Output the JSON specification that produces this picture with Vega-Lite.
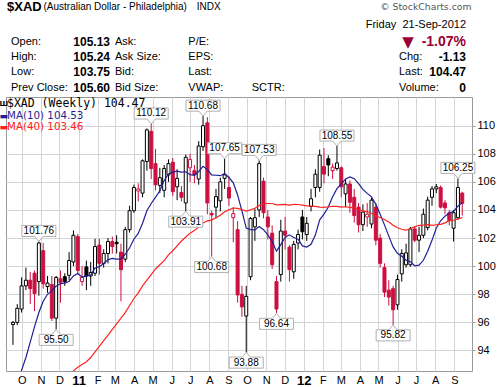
{
"$schema": "https://vega.github.io/schema/vega-lite/v6.json",
"width": 466, "height": 274,
"autosize": {"type": "none"},
"padding": {"left": 6, "top": 97, "right": 27, "bottom": 16},
"background": "#ffffff",
"config": {"view": {"stroke": "#999999", "strokeWidth": 1}, "font": "Liberation Sans", "axis": {"labelOverlap": false}, "axisY": {"labelOverlap": false}},
"datasets": {
"wk": [
{"d":"2010-09-20","o":95.85,"h":96.1,"l":94.4,"c":96.0,"m10":90.5,"m40":null},
{"d":"2010-09-27","o":96.0,"h":97.3,"l":95.8,"c":97.0,"m10":91.7,"m40":null},
{"d":"2010-10-04","o":96.95,"h":99.2,"l":96.7,"c":98.6,"m10":92.6,"m40":null},
{"d":"2010-10-11","o":98.6,"h":99.9,"l":98.3,"c":99.0,"m10":93.5,"m40":null},
{"d":"2010-10-18","o":99.0,"h":99.6,"l":97.3,"c":98.4,"m10":94.6,"m40":null},
{"d":"2010-10-25","o":99.5,"h":99.7,"l":96.8,"c":98.05,"m10":95.7,"m40":null},
{"d":"2010-11-01","o":98.9,"h":101.76,"l":97.9,"c":101.65,"m10":96.7,"m40":null},
{"d":"2010-11-08","o":101.1,"h":101.65,"l":98.4,"c":98.75,"m10":97.5,"m40":null},
{"d":"2010-11-15","o":98.55,"h":99.3,"l":98.1,"c":98.8,"m10":98.0,"m40":null},
{"d":"2010-11-22","o":98.7,"h":99.3,"l":96.1,"c":96.3,"m10":98.26,"m40":null},
{"d":"2010-11-29","o":96.3,"h":99.3,"l":95.5,"c":99.2,"m10":98.58,"m40":null},
{"d":"2010-12-06","o":99.1,"h":99.7,"l":97.4,"c":98.85,"m10":98.76,"m40":null},
{"d":"2010-12-13","o":99.25,"h":99.5,"l":98.6,"c":98.9,"m10":98.79,"m40":null},
{"d":"2010-12-20","o":99.35,"h":101.0,"l":99.0,"c":100.4,"m10":98.93,"m40":92.2},
{"d":"2010-12-27","o":100.3,"h":102.55,"l":100.0,"c":102.2,"m10":99.31,"m40":92.55},
{"d":"2011-01-03","o":102.1,"h":102.3,"l":99.4,"c":99.7,"m10":99.48,"m40":92.8},
{"d":"2011-01-10","o":98.9,"h":100.0,"l":98.6,"c":99.2,"m10":99.23,"m40":93.0},
{"d":"2011-01-17","o":99.95,"h":100.4,"l":98.3,"c":99.3,"m10":99.29,"m40":93.2},
{"d":"2011-01-24","o":99.3,"h":100.3,"l":98.6,"c":99.55,"m10":99.36,"m40":93.5},
{"d":"2011-01-31","o":99.5,"h":101.95,"l":99.3,"c":101.4,"m10":99.87,"m40":93.9},
{"d":"2011-02-07","o":101.5,"h":101.95,"l":99.4,"c":100.2,"m10":99.97,"m40":94.3},
{"d":"2011-02-14","o":100.2,"h":101.2,"l":99.9,"c":100.9,"m10":100.18,"m40":94.7},
{"d":"2011-02-21","o":100.9,"h":102.0,"l":100.2,"c":101.75,"m10":100.46,"m40":95.1},
{"d":"2011-02-28","o":101.75,"h":102.1,"l":100.9,"c":101.4,"m10":100.56,"m40":95.5},
{"d":"2011-03-07","o":101.7,"h":102.2,"l":100.9,"c":101.6,"m10":100.5,"m40":95.9},
{"d":"2011-03-14","o":101.0,"h":101.6,"l":97.5,"c":99.75,"m10":100.51,"m40":96.3},
{"d":"2011-03-21","o":100.5,"h":102.8,"l":100.3,"c":102.6,"m10":100.85,"m40":96.7},
{"d":"2011-03-28","o":102.6,"h":104.3,"l":102.4,"c":103.95,"m10":101.31,"m40":97.2},
{"d":"2011-04-04","o":103.95,"h":105.8,"l":103.8,"c":105.6,"m10":101.92,"m40":97.7},
{"d":"2011-04-11","o":105.35,"h":105.9,"l":104.6,"c":105.5,"m10":102.33,"m40":98.1},
{"d":"2011-04-18","o":105.2,"h":107.6,"l":104.9,"c":107.5,"m10":103.06,"m40":98.6},
{"d":"2011-04-25","o":107.45,"h":109.8,"l":106.8,"c":109.7,"m10":103.94,"m40":99.0},
{"d":"2011-05-02","o":109.6,"h":110.12,"l":106.2,"c":106.95,"m10":104.46,"m40":99.4},
{"d":"2011-05-09","o":107.3,"h":108.35,"l":105.4,"c":105.8,"m10":104.9,"m40":99.8},
{"d":"2011-05-16","o":105.75,"h":107.0,"l":105.2,"c":106.3,"m10":105.37,"m40":100.1},
{"d":"2011-05-23","o":105.4,"h":107.2,"l":104.9,"c":106.95,"m10":106.09,"m40":100.4},
{"d":"2011-05-30","o":106.5,"h":107.6,"l":106.0,"c":107.3,"m10":106.56,"m40":100.8},
{"d":"2011-06-06","o":107.4,"h":107.7,"l":105.0,"c":105.3,"m10":106.69,"m40":101.1},
{"d":"2011-06-13","o":105.65,"h":106.9,"l":104.7,"c":106.25,"m10":106.76,"m40":101.45},
{"d":"2011-06-20","o":105.25,"h":105.7,"l":104.6,"c":104.9,"m10":106.7,"m40":101.79},
{"d":"2011-06-27","o":104.5,"h":107.95,"l":103.91,"c":107.75,"m10":106.72,"m40":102.08},
{"d":"2011-07-04","o":107.0,"h":108.0,"l":106.0,"c":107.6,"m10":106.51,"m40":102.35},
{"d":"2011-07-11","o":106.8,"h":107.2,"l":105.9,"c":106.5,"m10":106.47,"m40":102.54},
{"d":"2011-07-18","o":106.2,"h":108.9,"l":105.8,"c":108.55,"m10":106.74,"m40":102.78},
{"d":"2011-07-25","o":108.5,"h":110.68,"l":108.2,"c":110.0,"m10":107.11,"m40":103.07},
{"d":"2011-08-01","o":110.2,"h":110.6,"l":103.7,"c":104.5,"m10":106.87,"m40":103.23},
{"d":"2011-08-08","o":103.75,"h":103.95,"l":100.68,"c":103.65,"m10":106.5,"m40":103.28},
{"d":"2011-08-15","o":104.2,"h":105.5,"l":103.4,"c":104.95,"m10":106.47,"m40":103.44},
{"d":"2011-08-22","o":104.65,"h":106.3,"l":103.9,"c":106.0,"m10":106.44,"m40":103.62},
{"d":"2011-08-29","o":106.25,"h":107.65,"l":105.5,"c":106.5,"m10":106.6,"m40":103.87},
{"d":"2011-09-05","o":105.6,"h":106.4,"l":104.3,"c":104.85,"m10":106.31,"m40":104.01},
{"d":"2011-09-12","o":103.45,"h":104.2,"l":101.7,"c":103.75,"m10":105.93,"m40":104.14},
{"d":"2011-09-19","o":102.6,"h":103.2,"l":97.4,"c":97.95,"m10":105.07,"m40":104.11},
{"d":"2011-09-26","o":98.0,"h":98.6,"l":96.4,"c":97.1,"m10":103.93,"m40":104.03},
{"d":"2011-10-03","o":96.45,"h":98.6,"l":93.88,"c":97.85,"m10":102.71,"m40":103.92},
{"d":"2011-10-10","o":99.25,"h":103.5,"l":99.0,"c":103.4,"m10":102.6,"m40":104.01},
{"d":"2011-10-17","o":102.8,"h":104.1,"l":101.8,"c":103.45,"m10":102.58,"m40":104.12},
{"d":"2011-10-24","o":104.0,"h":107.53,"l":103.5,"c":107.3,"m10":102.82,"m40":104.32},
{"d":"2011-10-31","o":106.05,"h":106.3,"l":103.4,"c":103.8,"m10":102.6,"m40":104.43},
{"d":"2011-11-07","o":103.5,"h":104.0,"l":101.9,"c":102.8,"m10":102.23,"m40":104.46},
{"d":"2011-11-14","o":102.35,"h":102.9,"l":99.8,"c":100.1,"m10":101.75,"m40":104.46},
{"d":"2011-11-21","o":98.9,"h":99.3,"l":96.64,"c":96.95,"m10":101.07,"m40":104.36},
{"d":"2011-11-28","o":99.4,"h":103.3,"l":98.9,"c":102.5,"m10":101.53,"m40":104.38},
{"d":"2011-12-05","o":102.5,"h":103.5,"l":101.2,"c":102.2,"m10":102.04,"m40":104.4},
{"d":"2011-12-12","o":101.35,"h":101.5,"l":98.9,"c":99.75,"m10":102.23,"m40":104.35},
{"d":"2011-12-19","o":99.6,"h":101.8,"l":99.1,"c":101.55,"m10":102.04,"m40":104.4},
{"d":"2011-12-26","o":101.65,"h":102.6,"l":101.2,"c":102.25,"m10":101.92,"m40":104.39},
{"d":"2012-01-02","o":103.5,"h":104.0,"l":101.9,"c":102.45,"m10":101.44,"m40":104.35},
{"d":"2012-01-09","o":102.25,"h":103.5,"l":101.8,"c":103.05,"m10":101.36,"m40":104.29},
{"d":"2012-01-16","o":104.25,"h":105.5,"l":103.9,"c":104.8,"m10":101.56,"m40":104.27},
{"d":"2012-01-23","o":105.6,"h":106.9,"l":104.9,"c":106.55,"m10":102.21,"m40":104.25},
{"d":"2012-01-30","o":105.6,"h":108.3,"l":105.3,"c":107.9,"m10":103.3,"m40":104.2},
{"d":"2012-02-06","o":107.1,"h":108.4,"l":105.9,"c":106.55,"m10":103.71,"m40":104.19},
{"d":"2012-02-13","o":107.65,"h":107.9,"l":106.4,"c":107.2,"m10":104.21,"m40":104.23},
{"d":"2012-02-20","o":106.8,"h":107.3,"l":106.2,"c":107.05,"m10":104.94,"m40":104.25},
{"d":"2012-02-27","o":106.95,"h":108.55,"l":106.8,"c":107.35,"m10":105.52,"m40":104.26},
{"d":"2012-03-05","o":107.0,"h":107.1,"l":104.9,"c":105.65,"m10":105.86,"m40":104.21},
{"d":"2012-03-12","o":105.15,"h":106.2,"l":104.2,"c":105.85,"m10":106.2,"m40":104.23},
{"d":"2012-03-19","o":105.85,"h":106.1,"l":103.8,"c":104.55,"m10":106.35,"m40":104.19},
{"d":"2012-03-26","o":104.9,"h":105.5,"l":103.1,"c":103.6,"m10":106.23,"m40":104.15},
{"d":"2012-04-02","o":104.2,"h":104.5,"l":102.4,"c":102.95,"m10":105.87,"m40":104.03},
{"d":"2012-04-09","o":102.95,"h":104.4,"l":102.5,"c":103.85,"m10":105.46,"m40":103.94},
{"d":"2012-04-16","o":103.5,"h":104.5,"l":102.8,"c":103.7,"m10":105.18,"m40":103.87},
{"d":"2012-04-23","o":103.0,"h":104.85,"l":102.7,"c":104.7,"m10":104.93,"m40":103.77},
{"d":"2012-04-30","o":104.2,"h":104.5,"l":101.5,"c":101.85,"m10":104.41,"m40":103.57},
{"d":"2012-05-07","o":102.0,"h":102.3,"l":99.9,"c":100.2,"m10":103.69,"m40":103.46},
{"d":"2012-05-14","o":99.9,"h":100.2,"l":97.8,"c":98.15,"m10":102.94,"m40":103.32},
{"d":"2012-05-21","o":98.3,"h":99.0,"l":97.2,"c":97.8,"m10":102.14,"m40":103.15},
{"d":"2012-05-28","o":98.4,"h":98.6,"l":95.82,"c":96.9,"m10":101.37,"m40":102.92},
{"d":"2012-06-04","o":97.25,"h":99.4,"l":96.9,"c":99.05,"m10":100.92,"m40":102.73},
{"d":"2012-06-11","o":99.45,"h":101.2,"l":98.9,"c":100.9,"m10":100.71,"m40":102.63},
{"d":"2012-06-18","o":100.1,"h":101.6,"l":99.9,"c":100.95,"m10":100.42,"m40":102.56},
{"d":"2012-06-25","o":100.1,"h":102.8,"l":99.95,"c":102.65,"m10":100.32,"m40":102.68},
{"d":"2012-07-02","o":102.65,"h":102.85,"l":101.7,"c":101.85,"m10":100.03,"m40":102.8},
{"d":"2012-07-09","o":101.85,"h":102.8,"l":101.0,"c":102.2,"m10":100.07,"m40":102.91},
{"d":"2012-07-16","o":102.2,"h":104.1,"l":102.0,"c":103.7,"m10":100.42,"m40":102.92},
{"d":"2012-07-23","o":102.75,"h":104.95,"l":102.55,"c":104.7,"m10":101.07,"m40":102.95},
{"d":"2012-07-30","o":104.9,"h":105.7,"l":104.3,"c":105.5,"m10":101.84,"m40":102.9},
{"d":"2012-08-06","o":105.5,"h":105.85,"l":105.2,"c":105.65,"m10":102.72,"m40":102.95},
{"d":"2012-08-13","o":105.6,"h":105.75,"l":104.1,"c":104.2,"m10":103.23,"m40":102.98},
{"d":"2012-08-20","o":104.5,"h":104.7,"l":103.7,"c":104.15,"m10":103.56,"m40":103.08},
{"d":"2012-08-27","o":103.8,"h":104.0,"l":102.9,"c":103.25,"m10":103.79,"m40":103.24},
{"d":"2012-09-03","o":102.7,"h":104.0,"l":101.75,"c":103.8,"m10":103.9,"m40":103.27},
{"d":"2012-09-10","o":103.45,"h":106.25,"l":103.3,"c":105.6,"m10":104.27,"m40":103.36},
{"d":"2012-09-17","o":105.2,"h":105.3,"l":103.6,"c":104.47,"m10":104.53,"m40":103.46}
],
"lbl": [
{"d":"2010-11-01","p":101.76,"t":"101.76","pos":"high"},
{"d":"2010-11-29","p":95.50,"t":"95.50","pos":"low"},
{"d":"2011-05-02","p":110.12,"t":"110.12","pos":"high"},
{"d":"2011-06-27","p":103.91,"t":"103.91","pos":"low"},
{"d":"2011-07-25","p":110.68,"t":"110.68","pos":"high"},
{"d":"2011-08-08","p":100.68,"t":"100.68","pos":"low"},
{"d":"2011-08-29","p":107.65,"t":"107.65","pos":"high"},
{"d":"2011-10-03","p":93.88,"t":"93.88","pos":"low"},
{"d":"2011-10-24","p":107.53,"t":"107.53","pos":"high"},
{"d":"2011-11-21","p":96.64,"t":"96.64","pos":"low"},
{"d":"2012-02-27","p":108.55,"t":"108.55","pos":"high"},
{"d":"2012-05-28","p":95.82,"t":"95.82","pos":"low"},
{"d":"2012-09-10","p":106.25,"t":"106.25","pos":"high"}
],
"hdr": [
{"c":2,"r":0,"t":"$XAD","k":"ttl"},
{"c":4,"r":0,"t":"(Australian Dollar - Philadelphia)","k":"sub"},
{"c":8,"r":0,"t":"INDX","k":"sub"},
{"c":13,"r":0,"t":"© StockCharts.com","k":"copy"},
{"c":12,"r":2,"t":"Friday\u00a0\u00a021-Sep-2012","k":"date"},
{"c":11,"r":3,"t":"▼","k":"arrow"},
{"c":12,"r":3,"t":"-1.07%","k":"pct"},
{"c":3,"r":3,"t":"Open:","k":"lab"},
{"c":3,"r":4,"t":"High:","k":"lab"},
{"c":3,"r":5,"t":"Low:","k":"lab"},
{"c":3,"r":6,"t":"Prev Close:","k":"lab"},
{"c":6,"r":3,"t":"Ask:","k":"lab"},
{"c":6,"r":4,"t":"Ask Size:","k":"lab"},
{"c":6,"r":5,"t":"Bid:","k":"lab"},
{"c":6,"r":6,"t":"Bid Size:","k":"lab"},
{"c":7,"r":3,"t":"P/E:","k":"lab"},
{"c":7,"r":4,"t":"EPS:","k":"lab"},
{"c":7,"r":5,"t":"Last:","k":"lab"},
{"c":7,"r":6,"t":"VWAP:","k":"lab"},
{"c":9,"r":6,"t":"SCTR:","k":"lab"},
{"c":10,"r":4,"t":"Chg:","k":"lab"},
{"c":10,"r":5,"t":"Last:","k":"lab"},
{"c":10,"r":6,"t":"Volume:","k":"lab"},
{"c":5,"r":3,"t":"105.13","k":"val"},
{"c":5,"r":4,"t":"105.24","k":"val"},
{"c":5,"r":5,"t":"103.75","k":"val"},
{"c":5,"r":6,"t":"105.60","k":"val"},
{"c":12,"r":4,"t":"-1.13","k":"val"},
{"c":12,"r":5,"t":"104.47","k":"val"},
{"c":12,"r":6,"t":"0","k":"val"},
{"c":0,"r":8,"t":"Ш","k":"icon"},
{"c":2,"r":8,"t":"$XAD (Weekly) 104.47","k":"leg"},
{"c":0,"r":9,"t":"▬","k":"d10"},
{"c":2,"r":9,"t":"MA(10) 104.53","k":"m10"},
{"c":0,"r":10,"t":"▬","k":"d40"},
{"c":2,"r":10,"t":"MA(40) 103.46","k":"m40"}
]
},
"layer": [
{
"encoding": {"x": {"field": "d", "type": "temporal", "title": null,
  "scale": {"type": "utc", "domain": [{"year": 2010, "month": 9, "date": 16, "hours": 20, "utc": true}, {"year": 2012, "month": 9, "date": 24, "hours": 17, "utc": true}]},
  "axis": {"orient": "bottom",
    "values": [
      {"year": 2010, "month": 10, "date": 1, "utc": true}, {"year": 2010, "month": 11, "date": 1, "utc": true}, {"year": 2010, "month": 12, "date": 1, "utc": true},
      {"year": 2011, "month": 1, "date": 1, "utc": true}, {"year": 2011, "month": 2, "date": 1, "utc": true}, {"year": 2011, "month": 3, "date": 1, "utc": true},
      {"year": 2011, "month": 4, "date": 1, "utc": true}, {"year": 2011, "month": 5, "date": 1, "utc": true}, {"year": 2011, "month": 6, "date": 1, "utc": true},
      {"year": 2011, "month": 7, "date": 1, "utc": true}, {"year": 2011, "month": 8, "date": 1, "utc": true}, {"year": 2011, "month": 9, "date": 1, "utc": true},
      {"year": 2011, "month": 10, "date": 1, "utc": true}, {"year": 2011, "month": 11, "date": 1, "utc": true}, {"year": 2011, "month": 12, "date": 1, "utc": true},
      {"year": 2012, "month": 1, "date": 1, "utc": true}, {"year": 2012, "month": 2, "date": 1, "utc": true}, {"year": 2012, "month": 3, "date": 1, "utc": true},
      {"year": 2012, "month": 4, "date": 1, "utc": true}, {"year": 2012, "month": 5, "date": 1, "utc": true}, {"year": 2012, "month": 6, "date": 1, "utc": true},
      {"year": 2012, "month": 7, "date": 1, "utc": true}, {"year": 2012, "month": 8, "date": 1, "utc": true}, {"year": 2012, "month": 9, "date": 1, "utc": true}
    ],
    "grid": true, "gridColor": "#d4d4d4", "domain": false, "ticks": false, "tickOffset": 2, "labelPadding": 3, "labelOverlap": false, "labelFlush": false, "labelFont": "Liberation Sans", "labelColor": "#000000", "title": null,
    "labelExpr": "utcmonth(datum.value) == 0 ? utcFormat(datum.value, '%y') : substring(utcFormat(datum.value, '%b'), 0, 1)",
    "labelFontWeight": {"condition": {"test": "utcmonth(datum.value) == 0", "value": "bold"}, "value": "normal"},
    "labelFontSize": {"condition": {"test": "utcmonth(datum.value) == 0", "value": 13}, "value": 11}}}},
"layer": [
{"data": {"name": "wk"},
 "transform": [{"window": [{"op": "lag", "field": "c", "as": "pc"}], "sort": [{"field": "d"}]}, {"calculate": "datum.pc == null || datum.c >= datum.pc ? 'up' : 'down'", "as": "dir"}],
 "mark": {"type": "rule", "strokeWidth": 1},
 "encoding": {
  "y": {"field": "l", "type": "quantitative", "title": null, "scale": {"domain": [92.54, 112.04], "nice": false, "zero": false}, "axis": {"orient": "right", "values": [94,96,98,100,102,104,106,108,110], "labelOverlap": false, "labelBound": false, "grid": true, "gridColor": "#d4d4d4", "domain": false, "ticks": true, "tickSize": 3, "tickColor": "#999999", "labelPadding": 2, "labelFont": "Liberation Sans", "labelFontSize": 11, "labelColor": "#000000", "title": null}},
  "y2": {"field": "h"},
  "color": {"field": "dir", "type": "nominal", "scale": {"domain": ["up", "down"], "range": ["#000000", "#cc1040"]}, "legend": null}}},
{"data": {"name": "wk"},
 "transform": [{"window": [{"op": "lag", "field": "c", "as": "pc"}], "sort": [{"field": "d"}]}, {"calculate": "datum.pc == null || datum.c >= datum.pc ? 'up' : 'down'", "as": "dir"}],
 "mark": {"type": "bar", "size": 3, "strokeWidth": 1},
 "encoding": {
  "y": {"field": "o", "type": "quantitative", "title": null, "scale": {"domain": [92.54, 112.04], "nice": false, "zero": false}, "axis": {"orient": "right", "values": [94,96,98,100,102,104,106,108,110], "labelOverlap": false, "labelBound": false, "grid": true, "gridColor": "#d4d4d4", "domain": false, "ticks": true, "tickSize": 3, "tickColor": "#999999", "labelPadding": 2, "labelFont": "Liberation Sans", "labelFontSize": 11, "labelColor": "#000000", "title": null}},
  "y2": {"field": "c"},
  "stroke": {"field": "dir", "type": "nominal", "scale": {"domain": ["up", "down"], "range": ["#000000", "#cc1040"]}, "legend": null},
  "fill": {"condition": {"test": "datum.c > datum.o", "value": "#ffffff"}, "field": "dir", "type": "nominal", "scale": {"domain": ["up", "down"], "range": ["#000000", "#cc1040"]}, "legend": null}}},
{"data": {"name": "wk"},
 "mark": {"type": "line", "color": "#1f1f96", "strokeWidth": 1.2, "clip": true},
 "encoding": {"y": {"field": "m10", "type": "quantitative", "title": null, "scale": {"domain": [92.54, 112.04], "nice": false, "zero": false}, "axis": {"orient": "right", "values": [94,96,98,100,102,104,106,108,110], "labelOverlap": false, "labelBound": false, "grid": true, "gridColor": "#d4d4d4", "domain": false, "ticks": true, "tickSize": 3, "tickColor": "#999999", "labelPadding": 2, "labelFont": "Liberation Sans", "labelFontSize": 11, "labelColor": "#000000", "title": null}}}},
{"data": {"name": "wk"},
 "mark": {"type": "line", "color": "#ff2222", "strokeWidth": 1.2, "clip": true},
 "encoding": {"y": {"field": "m40", "type": "quantitative", "title": null, "scale": {"domain": [92.54, 112.04], "nice": false, "zero": false}, "axis": {"orient": "right", "values": [94,96,98,100,102,104,106,108,110], "labelOverlap": false, "labelBound": false, "grid": true, "gridColor": "#d4d4d4", "domain": false, "ticks": true, "tickSize": 3, "tickColor": "#999999", "labelPadding": 2, "labelFont": "Liberation Sans", "labelFontSize": 11, "labelColor": "#000000", "title": null}}}},
{"data": {"name": "lbl"},
 "transform": [{"filter": "datum.pos == 'high'"}],
 "mark": {"type": "point", "shape": "M0,0L-0.24,-0.29L-1,-0.29L-1,-0.94L1,-0.94L1,-0.29L0.24,-0.29Z", "size": 1156, "filled": true, "fill": "#ffffff", "stroke": "#b0b0b0", "strokeWidth": 1, "opacity": 1},
 "encoding": {"y": {"field": "p", "type": "quantitative", "title": null, "scale": {"domain": [92.54, 112.04], "nice": false, "zero": false}, "axis": {"orient": "right", "values": [94,96,98,100,102,104,106,108,110], "labelOverlap": false, "labelBound": false, "grid": true, "gridColor": "#d4d4d4", "domain": false, "ticks": true, "tickSize": 3, "tickColor": "#999999", "labelPadding": 2, "labelFont": "Liberation Sans", "labelFontSize": 11, "labelColor": "#000000", "title": null}}}},
{"data": {"name": "lbl"},
 "transform": [{"filter": "datum.pos == 'low'"}],
 "mark": {"type": "point", "shape": "M0,0L-0.24,0.29L-1,0.29L-1,0.94L1,0.94L1,0.29L0.24,0.29Z", "size": 1156, "filled": true, "fill": "#ffffff", "stroke": "#b0b0b0", "strokeWidth": 1, "opacity": 1},
 "encoding": {"y": {"field": "p", "type": "quantitative", "title": null, "scale": {"domain": [92.54, 112.04], "nice": false, "zero": false}, "axis": {"orient": "right", "values": [94,96,98,100,102,104,106,108,110], "labelOverlap": false, "labelBound": false, "grid": true, "gridColor": "#d4d4d4", "domain": false, "ticks": true, "tickSize": 3, "tickColor": "#999999", "labelPadding": 2, "labelFont": "Liberation Sans", "labelFontSize": 11, "labelColor": "#000000", "title": null}}}},
{"data": {"name": "lbl"},
 "transform": [{"filter": "datum.pos == 'high'"}],
 "mark": {"type": "text", "dy": -10.5, "baseline": "middle", "font": "Liberation Sans", "fontSize": 10, "color": "#000000"},
 "encoding": {"y": {"field": "p", "type": "quantitative", "title": null, "scale": {"domain": [92.54, 112.04], "nice": false, "zero": false}, "axis": {"orient": "right", "values": [94,96,98,100,102,104,106,108,110], "labelOverlap": false, "labelBound": false, "grid": true, "gridColor": "#d4d4d4", "domain": false, "ticks": true, "tickSize": 3, "tickColor": "#999999", "labelPadding": 2, "labelFont": "Liberation Sans", "labelFontSize": 11, "labelColor": "#000000", "title": null}}, "text": {"field": "t"}}},
{"data": {"name": "lbl"},
 "transform": [{"filter": "datum.pos == 'low'"}],
 "mark": {"type": "text", "dy": 10.5, "baseline": "middle", "font": "Liberation Sans", "fontSize": 10, "color": "#000000"},
 "encoding": {"y": {"field": "p", "type": "quantitative", "title": null, "scale": {"domain": [92.54, 112.04], "nice": false, "zero": false}, "axis": {"orient": "right", "values": [94,96,98,100,102,104,106,108,110], "labelOverlap": false, "labelBound": false, "grid": true, "gridColor": "#d4d4d4", "domain": false, "ticks": true, "tickSize": 3, "tickColor": "#999999", "labelPadding": 2, "labelFont": "Liberation Sans", "labelFontSize": 11, "labelColor": "#000000", "title": null}}, "text": {"field": "t"}}}
]
},
{
"encoding": {
 "x": {"field": "c", "type": "quantitative", "axis": null, "scale": {"domain": [0,1,2,3,4,5,6,7,8,9,10,11,12,13], "range": [-2.2, 0.5, 1, 5, 37.5, 104, 109, 182.3, 190.7, 245.7, 393, 402, 460, 465.5], "nice": false, "zero": false}},
 "y": {"field": "r", "type": "quantitative", "axis": null, "scale": {"domain": [0,1,2,3,4,5,6,7,8,9,10], "range": [-90, -81.5, -72, -55.3, -40.3, -25.3, -9.5, 0, 7, 18.5, 30], "nice": false, "zero": false}}
},
"layer": [
{"data": {"values": [{}]}, "mark": {"type": "rect", "filled": false, "color": "#a0a0a0", "strokeWidth": 1},
 "encoding": {"x": {"datum": 1, "type": "quantitative"}, "x2": {"datum": 13}, "y": {"datum": 1, "type": "quantitative"}, "y2": {"datum": 7}}},
{"data": {"name": "hdr"}, "transform": [{"filter": "datum.k == 'ttl'"}], "mark": {"type": "text", "align": "left", "baseline": "middle", "font": "Liberation Sans", "fontSize": 13, "fontWeight": "bold", "color": "#000000"}, "encoding": {"text": {"field": "t"}}},
{"data": {"name": "hdr"}, "transform": [{"filter": "datum.k == 'sub'"}], "mark": {"type": "text", "align": "left", "baseline": "middle", "font": "Liberation Sans", "fontSize": 10, "color": "#000000"}, "encoding": {"text": {"field": "t"}}},
{"data": {"name": "hdr"}, "transform": [{"filter": "datum.k == 'copy'"}], "mark": {"type": "text", "align": "right", "baseline": "middle", "font": "DejaVu Sans", "fontSize": 9.3, "color": "#555555"}, "encoding": {"text": {"field": "t"}}},
{"data": {"name": "hdr"}, "transform": [{"filter": "datum.k == 'date'"}], "mark": {"type": "text", "align": "right", "baseline": "middle", "font": "Liberation Sans", "fontSize": 11, "color": "#000000"}, "encoding": {"text": {"field": "t"}}},
{"data": {"name": "hdr"}, "transform": [{"filter": "datum.k == 'arrow'"}], "mark": {"type": "text", "align": "center", "baseline": "middle", "font": "DejaVu Sans", "fontSize": 15, "color": "#990033"}, "encoding": {"text": {"field": "t"}}},
{"data": {"name": "hdr"}, "transform": [{"filter": "datum.k == 'pct'"}], "mark": {"type": "text", "align": "right", "baseline": "middle", "font": "Liberation Sans", "fontSize": 14, "fontWeight": "bold", "color": "#990033"}, "encoding": {"text": {"field": "t"}}},
{"data": {"name": "hdr"}, "transform": [{"filter": "datum.k == 'lab'"}], "mark": {"type": "text", "align": "left", "baseline": "middle", "font": "Liberation Sans", "fontSize": 11, "color": "#000000"}, "encoding": {"text": {"field": "t"}}},
{"data": {"name": "hdr"}, "transform": [{"filter": "datum.k == 'val'"}], "mark": {"type": "text", "align": "right", "baseline": "middle", "font": "Liberation Sans", "fontSize": 12, "fontWeight": "bold", "color": "#000000"}, "encoding": {"text": {"field": "t"}}},
{"data": {"name": "hdr"}, "transform": [{"filter": "datum.k == 'icon'"}], "mark": {"type": "text", "align": "center", "baseline": "middle", "font": "DejaVu Sans", "fontSize": 7, "fontWeight": "bold", "color": "#000000"}, "encoding": {"text": {"field": "t"}}},
{"data": {"name": "hdr"}, "transform": [{"filter": "datum.k == 'leg'"}], "mark": {"type": "text", "align": "left", "baseline": "middle", "font": "DejaVu Sans Mono", "fontSize": 11.5, "color": "#000000"}, "encoding": {"text": {"field": "t"}}},
{"data": {"name": "hdr"}, "transform": [{"filter": "datum.k == 'd10'"}], "mark": {"type": "text", "align": "center", "baseline": "middle", "font": "DejaVu Sans", "fontSize": 9, "color": "#1f1f96"}, "encoding": {"text": {"field": "t"}}},
{"data": {"name": "hdr"}, "transform": [{"filter": "datum.k == 'd40'"}], "mark": {"type": "text", "align": "center", "baseline": "middle", "font": "DejaVu Sans", "fontSize": 9, "color": "#ff2222"}, "encoding": {"text": {"field": "t"}}},
{"data": {"name": "hdr"}, "transform": [{"filter": "datum.k == 'm10'"}], "mark": {"type": "text", "align": "left", "baseline": "middle", "font": "DejaVu Sans", "fontSize": 10.3, "color": "#1f1f96"}, "encoding": {"text": {"field": "t"}}},
{"data": {"name": "hdr"}, "transform": [{"filter": "datum.k == 'm40'"}], "mark": {"type": "text", "align": "left", "baseline": "middle", "font": "DejaVu Sans", "fontSize": 10.3, "color": "#ff2222"}, "encoding": {"text": {"field": "t"}}}
]
}
],
"resolve": {"scale": {"x": "independent", "y": "independent"}}
}
